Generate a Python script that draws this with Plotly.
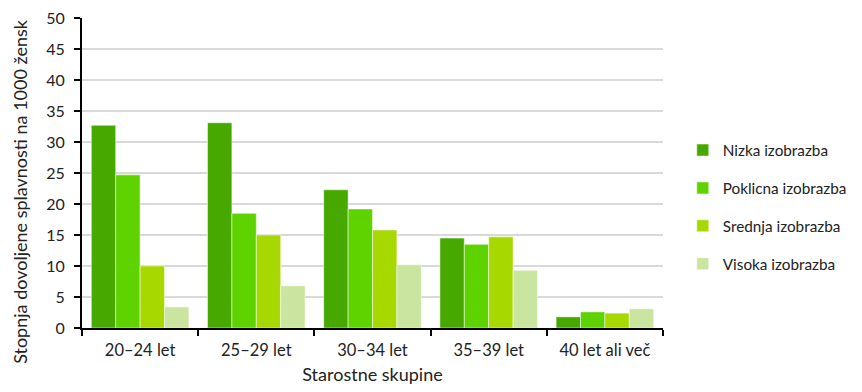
import plotly.graph_objects as go

categories = ["20–24 let", "25–29 let", "30–34 let", "35–39 let", "40 let ali več"]
nizka = [32.7, 33.1, 22.3, 14.5, 1.8]
poklicna = [24.7, 18.5, 19.2, 13.5, 2.6]
srednja = [10.0, 15.0, 15.8, 14.7, 2.4]
visoka = [3.4, 6.8, 10.2, 9.3, 3.1]
series_names = ["Nizka izobrazba", "Poklicna izobrazba", "Srednja izobrazba", "Visoka izobrazba"]
colors = ["#47a800", "#5fd300", "#a7d800", "#cae5a0"]
y_ticks = [0, 5, 10, 15, 20, 25, 30, 35, 40, 45, 50]

fig = go.Figure()
for i, (name, vals) in enumerate(zip(series_names, [nizka, poklicna, srednja, visoka])):
    fig.add_trace(go.Bar(
        x=categories, y=vals, name=name, legendgroup=name,
        marker=dict(color=colors[i], line=dict(color="rgba(255,255,255,0.5)", width=1)),
    ))

font_family = "Lato, Open Sans, sans-serif"
fig.update_layout(
    width=862, height=392,
    margin=dict(l=74, r=207, t=10, b=72, autoexpand=False),
    paper_bgcolor="white", plot_bgcolor="white",
    barmode="group", bargap=0.16, bargroupgap=0,
    font=dict(family=font_family, size=15, color="#222222"),
    legend=dict(x=1.034, y=0.39, xanchor="left", yanchor="middle",
                font=dict(size=15.3, color="#222222"), tracegroupgap=15,
                itemwidth=30),
    showlegend=True,
    annotations=[dict(
        text="Stopnja dovoljene splavnosti na 1000 žensk",
        xref="paper", yref="paper", x=-0.108, y=0.44,
        xanchor="center", yanchor="middle", textangle=-90, showarrow=False,
        font=dict(size=18, color="#222222"),
    )],
)
fig.update_xaxes(
    showline=True, linecolor="black", linewidth=2,
    ticks="outside", tickson="boundaries", ticklen=6, tickcolor="black", tickwidth=2,
    tickfont=dict(size=16.5, color="#222222"), ticklabelstandoff=6,
    title=dict(text="Starostne skupine", font=dict(size=18, color="#222222"), standoff=10),
    showgrid=False, automargin=False,
)
fig.update_yaxes(
    range=[0, 50], tickvals=y_ticks,
    showline=True, linecolor="black", linewidth=2,
    ticks="outside", ticklen=6, tickcolor="black", tickwidth=2,
    tickfont=dict(size=16, color="#222222"), ticklabelstandoff=6,
    ticklabeloverflow="allow",
    showgrid=True, gridcolor="#d9d9d9", gridwidth=1.5,
    zeroline=False, automargin=False,
)
fig.write_html("out.html")
